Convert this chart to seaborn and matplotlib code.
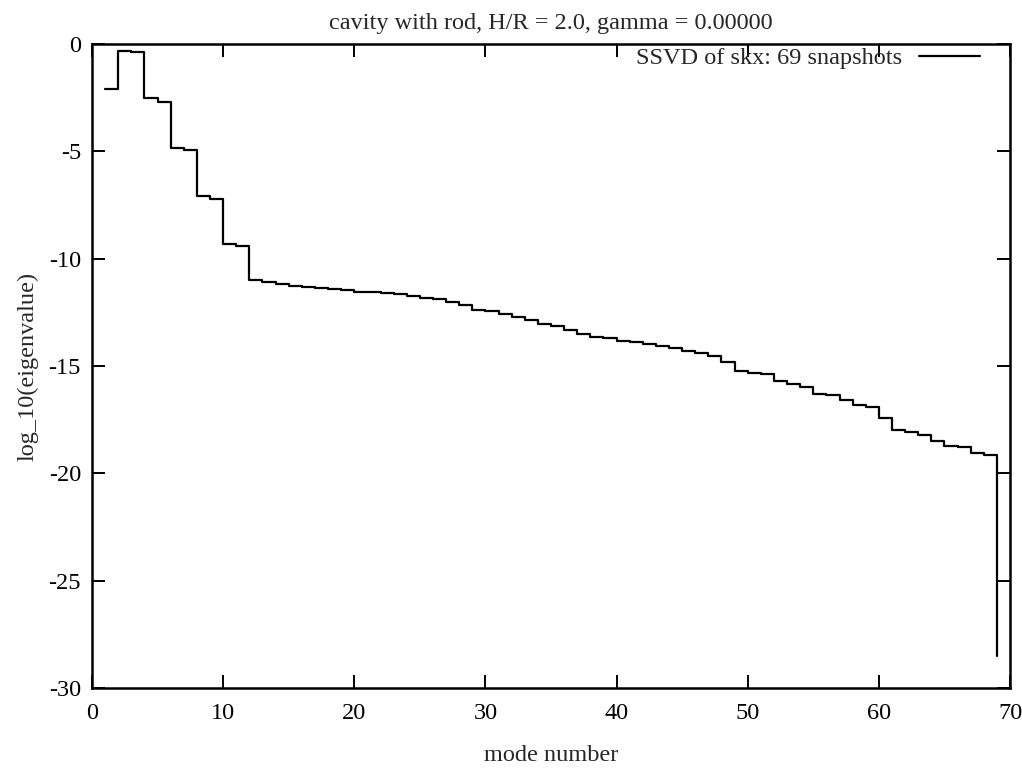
import numpy as np
import pandas as pd
import matplotlib
matplotlib.use("Agg")
import matplotlib.pyplot as plt
import seaborn as sns

# ---- data ----
mode = list(range(1, 70))
log_eig = [
    -2.10, -0.31, -0.37, -2.50, -2.72, -4.86, -4.96, -7.08, -7.20, -9.34,
    -9.42, -10.99, -11.10, -11.19, -11.27, -11.33, -11.38, -11.41, -11.46, -11.54,
    -11.57, -11.60, -11.66, -11.74, -11.82, -11.89, -12.00, -12.17, -12.39, -12.42,
    -12.57, -12.70, -12.87, -13.03, -13.13, -13.32, -13.52, -13.63, -13.68, -13.85,
    -13.89, -13.97, -14.08, -14.17, -14.29, -14.39, -14.53, -14.80, -15.22, -15.32,
    -15.36, -15.68, -15.86, -15.99, -16.29, -16.35, -16.58, -16.80, -16.89, -17.43,
    -17.98, -18.06, -18.21, -18.49, -18.72, -18.78, -19.03, -19.14, -28.53,
]
x_ticks = [0, 10, 20, 30, 40, 50, 60, 70]
y_ticks = [0, -5, -10, -15, -20, -25, -30]
title = "cavity with rod, H/R = 2.0, gamma = 0.00000"
series_label = "SSVD of skx: 69 snapshots"

df = pd.DataFrame({"mode": mode, "log_eig": log_eig})

sns.set_style("ticks")
plt.rcParams["font.family"] = ["Liberation Serif", "DejaVu Serif"]
plt.rcParams["axes.unicode_minus"] = False

FS = 17.5

fig = plt.figure(figsize=(10.22, 7.71), dpi=100)
ax = fig.add_axes([92 / 1022, 1 - 688 / 771, 918 / 1022, 644 / 771])

sns.lineplot(data=df, x="mode", y="log_eig", ax=ax, color="black",
             drawstyle="steps-post", linewidth=1.6, label=series_label,
             sort=False, estimator=None)

ax.set_xlim(0, 70)
ax.set_ylim(-30, 0)
ax.set_xticks(x_ticks)
ax.set_yticks(y_ticks)
ax.set_xticklabels([str(v) for v in x_ticks])
ax.set_yticklabels([str(v) for v in y_ticks])

ax.tick_params(axis="both", which="major", direction="in", length=9.5, width=1.4,
               top=True, right=True, labelsize=FS, colors="black")
ax.tick_params(axis="x", pad=11)
ax.tick_params(axis="y", pad=8)
for sp in ax.spines.values():
    sp.set_visible(True)
    sp.set_linewidth(1.8)
    sp.set_color("black")

ax.set_title(title, fontsize=FS, pad=11)
ax.set_xlabel("mode number", fontsize=FS, labelpad=15)
ax.set_ylabel("log_10(eigenvalue)", fontsize=FS, labelpad=7)

leg = ax.legend(loc="upper right", bbox_to_anchor=(0.967, 0.995), frameon=False,
                markerfirst=False, fontsize=FS, handlelength=2.5,
                handletextpad=0.7, borderaxespad=0, borderpad=0)
for line in leg.get_lines():
    line.set_linewidth(1.6)

fig.savefig("out.png", dpi=100)
